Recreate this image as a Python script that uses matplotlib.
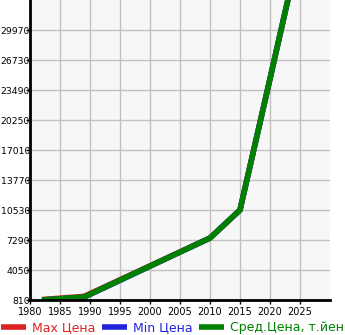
import matplotlib
matplotlib.use("Agg")
import matplotlib.pyplot as plt

years = [1982, 1989, 2010, 2015, 2020, 2025]
avg_price = [810, 1134, 7506, 10530, 24700, 39000]
max_price = [860, 1200, 7506, 10530, 24700, 39000]
min_price = [810, 1100, 7506, 10530, 24700, 39000]

yticks = [810, 4050, 7290, 10530, 13770, 17010, 20250, 23490, 26730, 29970]
xticks = [1980, 1985, 1990, 1995, 2000, 2005, 2010, 2015, 2020, 2025]
labels = ["Max Цена", "Min Цена", "Сред.Цена, т.йен"]
colors = ["#dd2222", "#2222dd", "#008000"]

fig = plt.figure(figsize=(3.45, 3.35), dpi=100)
ax = fig.add_axes([30/345, 35/335, 300/345, 300/335])
ax.set_facecolor("#f7f7f7")
ax.plot(years, max_price, color=colors[0], lw=4, solid_capstyle="butt", label=labels[0])
ax.plot(years, min_price, color=colors[1], lw=4, solid_capstyle="butt", label=labels[1])
ax.plot(years, avg_price, color=colors[2], lw=4, solid_capstyle="butt", label=labels[2])
ax.set_xlim(1980, 2030)
ax.set_ylim(810, 810 + 10*3240)
ax.set_xticks(xticks)
ax.set_yticks(yticks)
ax.tick_params(axis="x", labelsize=7, length=3, width=1, pad=2)
ax.tick_params(axis="y", labelsize=6.7, length=3, width=1, pad=-3)
ax.grid(True, color="#c0c0c0", lw=1)
ax.set_axisbelow(True)
for s in ["top", "right"]:
    ax.spines[s].set_visible(False)
ax.spines["left"].set_linewidth(2)
ax.spines["bottom"].set_linewidth(2)
leg = fig.legend(loc="lower center", bbox_to_anchor=(0.5, -0.012), ncol=3, frameon=False,
                 fontsize=9, handlelength=2.0, columnspacing=0.5, handletextpad=0.5,
                 borderaxespad=0.0)
for t, c in zip(leg.get_texts(), colors):
    t.set_color(c)
fig.savefig("out.png", dpi=100)
